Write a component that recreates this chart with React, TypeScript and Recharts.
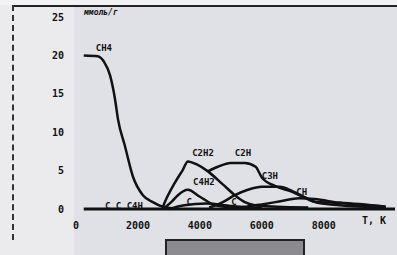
import React from "react";
import { LineChart, Line, XAxis, YAxis, ReferenceLine, ReferenceDot } from "recharts";

// temperature (K), concentration pairs
const ch4 = [[250, 20.0], [700, 19.9], [900, 19.2], [1100, 17.4], [1260, 14.3], [1355, 11.7], [1580, 8.2], [1840, 4.2], [2160, 1.8], [2480, 0.9], [2800, 0.3], [3100, 0.1]];
const c2h2 = [[2800, 0.2], [2870, 0.9], [3190, 3.4], [3450, 5.1], [3610, 6.2], [3900, 5.8], [4260, 4.9], [4740, 3.2], [5130, 1.8], [5450, 0.9], [5770, 0.5], [6500, 0.3], [7500, 0.2]];
const c2h = [[4260, 4.9], [4580, 5.5], [5000, 6.0], [5450, 6.0], [5800, 5.5], [6000, 4.1], [6420, 3.0], [7000, 2.2], [7320, 1.6], [7770, 0.9], [8520, 0.8], [10000, 0.3]];
const c3h = [[4300, 0.2], [4740, 0.9], [5130, 1.8], [5550, 2.5], [6000, 2.9], [6580, 2.9], [7000, 2.3], [7400, 1.5], [7800, 0.8], [8500, 0.5], [10000, 0.2]];
const c4h2 = [[2900, 0.3], [3100, 1.0], [3290, 1.8], [3610, 2.5], [4000, 1.6], [4480, 0.5], [5000, 0.2]];
const ch = [[5000, 0.1], [5500, 0.3], [6000, 0.6], [6600, 1.0], [7200, 1.4], [7700, 1.3], [8500, 0.8], [10000, 0.3]];
const c3 = [[3000, 0.0], [3500, 0.5], [4200, 0.7], [5000, 0.4], [6000, 0.1]];

const seriesList = [ch4, c2h2, c2h, c3h, c4h2, ch, c3];

const xTicks = [0, 2000, 4000, 6000, 8000];
const yTicks = [0, 5, 10, 15, 20, 25];

// curve labels: text, T, value
const curveLabels: [string, number, number][] = [
  ["CH4", 900, 21.0],
  ["C2H2", 4100, 7.3],
  ["C2H", 5390, 7.3],
  ["C4H2", 4130, 3.5],
  ["C3H", 6260, 4.3],
  ["CH", 7290, 2.3],
  ["C C C4H", 1550, 0.45],
  ["C.", 3740, 0.9],
  ["C", 5100, 1.0],
];

const font = "'DejaVu Sans Mono', monospace";

const toPoints = (arr: number[][]) => arr.map(([t, v]) => ({ t, v }));

export default function App() {
  return (
    <div style={{ position: "absolute", left: 0, top: 0, width: 397, height: 255, background: "#e0e1e7", overflow: "hidden" }}>
      <div style={{ position: "absolute", left: 0, top: 0, width: 74, height: 255, background: "#ebebee" }} />
      <div style={{ position: "absolute", left: 0, top: 0, width: 397, height: 5, background: "#f2f2f4" }} />
      <div style={{ position: "absolute", left: 13, top: 5, width: 384, height: 2, background: "#222" }} />
      <div style={{ position: "absolute", left: 12, top: 5, width: 0, height: 235, borderLeft: "2px dashed #333" }} />
      <div style={{ position: "absolute", left: 165, top: 239, width: 136, height: 20, background: "#8b8b90", border: "2px solid #222" }} />
      <div style={{ position: "absolute", left: 84, top: 8, fontFamily: font, fontSize: 8, fontWeight: "bold", fontStyle: "italic", color: "#111" }}>ммоль/г</div>
      <div style={{ position: "absolute", left: 362, top: 215, fontFamily: font, fontSize: 10, fontWeight: "bold", color: "#111" }}>T, K</div>
      <LineChart width={397} height={255} margin={{ top: 17, right: 2, bottom: 16, left: 46 }} style={{ position: "absolute", left: 0, top: 0 }}>
        <XAxis
          type="number"
          dataKey="t"
          domain={[0, 10300]}
          ticks={xTicks}
          allowDataOverflow
          axisLine={false}
          tickLine={false}
          tickMargin={7}
          height={30}
          tick={{ fontFamily: font, fontSize: 10, fontWeight: "bold", fill: "#111" }}
        />
        <YAxis
          type="number"
          domain={[0, 25]}
          ticks={yTicks}
          width={30}
          axisLine={false}
          tickLine={false}
          tickMargin={6}
          tick={{ fontFamily: font, fontSize: 10, fontWeight: "bold", fill: "#111" }}
        />
        <ReferenceLine segment={[{ x: 250, y: 0 }, { x: 10300, y: 0 }]} stroke="#111" strokeWidth={3} ifOverflow="visible" />
        {seriesList.map((s, i) => (
          <Line
            key={i}
            data={toPoints(s)}
            dataKey="v"
            type="monotone"
            stroke="#111"
            strokeWidth={2.5}
            dot={false}
            isAnimationActive={false}
          />
        ))}
        {curveLabels.map(([text, t, v], i) => (
          <ReferenceDot
            key={"l" + i}
            x={t}
            y={v}
            r={0}
            fill="none"
            stroke="none"
            ifOverflow="visible"
            label={{ value: text, position: "center", fontFamily: font, fontSize: 9, fontWeight: "bold", fill: "#111" }}
          />
        ))}
      </LineChart>
    </div>
  );
}
